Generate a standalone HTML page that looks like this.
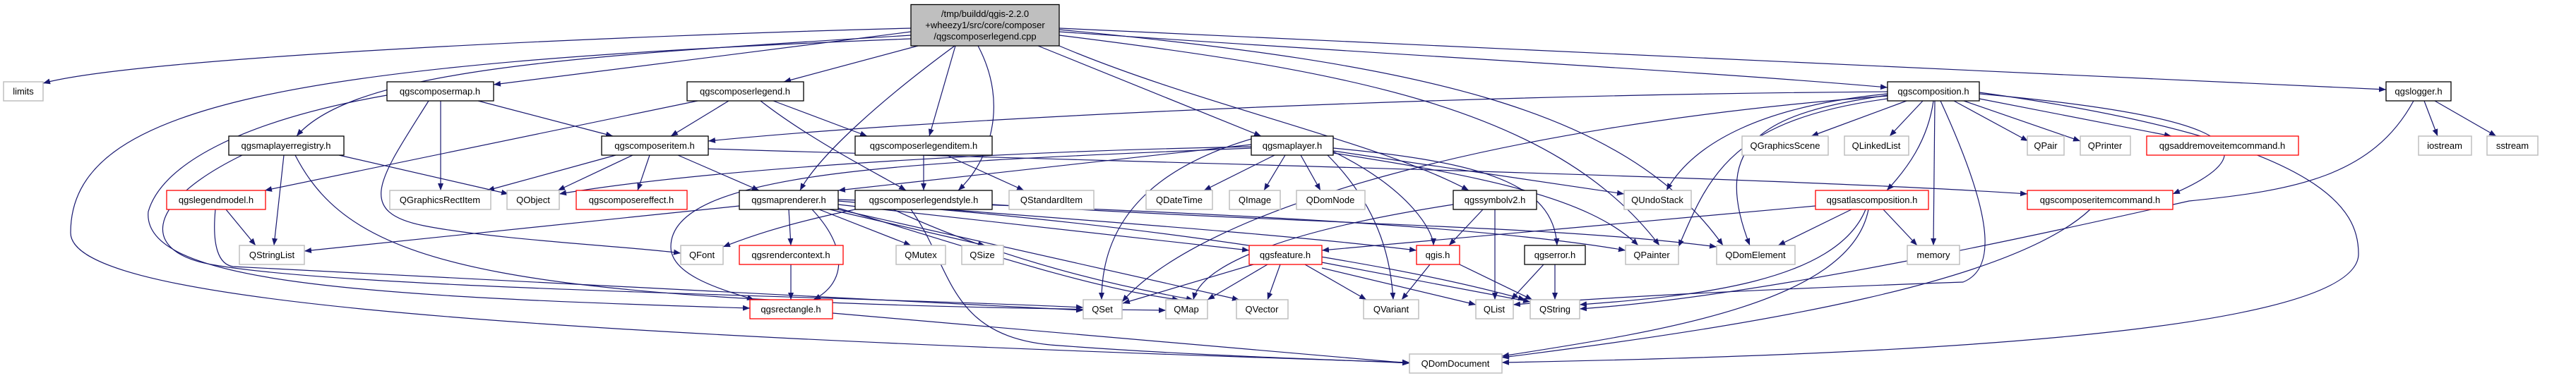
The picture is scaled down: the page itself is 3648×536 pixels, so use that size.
<!DOCTYPE html>
<html><head><meta charset="utf-8"><style>
html,body{margin:0;padding:0;background:#fff;}
svg{display:block;}
text{font-family:"Liberation Sans",sans-serif;font-size:13px;fill:#000;text-anchor:middle;}
.e{fill:none;stroke:#191970;stroke-width:1.2;marker-end:url(#a);}
.n{fill:#fff;stroke:#000;stroke-width:1.3;}
.g{fill:#fff;stroke:#bfbfbf;stroke-width:1.5;}
.r{fill:#fff;stroke:#ff0000;stroke-width:1.3;}
</style></head><body>
<svg width="3648" height="536" viewBox="0 0 3648 536" xmlns="http://www.w3.org/2000/svg">
<defs><marker id="a" markerUnits="userSpaceOnUse" markerWidth="11" markerHeight="9" refX="10" refY="4" orient="auto"><path d="M0,0 L10,4 L0,8 z" fill="#191970"/></marker></defs>
<g>
<!-- main -->
<path class="e" d="M1290 40 C900 50,200 80,61 118"/>
<path class="e" d="M1290 45 C1100 70,850 100,699 120"/>
<path class="e" d="M1300 65 L1110 116"/>
<path class="e" d="M1290 50 C800 80,500 100,420 193"/>
<path class="e" d="M1353 65 L1316 193"/>
<path class="e" d="M1385 65 C1430 150,1400 230,1357 270"/>
<path class="e" d="M1352 65 C1250 140,1160 220,1133 270"/>
<path class="e" d="M1470 65 L1786 193"/>
<path class="e" d="M1500 65 C1700 150,1950 200,2080 270"/>
<path class="e" d="M1500 45 C2000 80,2400 100,2673 124"/>
<path class="e" d="M1500 40 L3379 127"/>
<path class="e" d="M1290 55 C400 90,100 150,100 330 C100 420,600 470,1996 514"/>
<path class="e" d="M1500 50 C1900 100,2200 150,2350 348"/>
<path class="e" d="M1500 42 C2000 90,2300 150,2440 348"/>
<!-- cmap -->
<path class="e" d="M677 143 L868 193"/>
<path class="e" d="M624 143 L624 270"/>
<path class="e" d="M607 143 C540 250,500 300,600 320 C700 340,900 350,964 359"/>
<path class="e" d="M548 135 C350 170,230 230,210 300 C200 400,500 420,1062 437"/>
<!-- citem -->
<path class="e" d="M872 220 L690 270"/>
<path class="e" d="M896 220 L790 270"/>
<path class="e" d="M920 220 L903 270"/>
<path class="e" d="M960 220 L1075 270"/>
<path class="e" d="M1003 211 C1600 230,2500 250,2871 275"/>
<!-- clegend -->
<path class="e" d="M1032 143 L950 193"/>
<path class="e" d="M1095 143 L1228 193"/>
<path class="e" d="M988 143 L375 270"/>
<path class="e" d="M1077 143 C1150 200,1250 250,1283 270"/>
<!-- mlr -->
<path class="e" d="M480 220 L720 275"/>
<path class="e" d="M402 220 L388 348"/>
<path class="e" d="M343 220 C200 290,200 360,305 376 C500 410,1200 420,1534 436"/>
<path class="e" d="M418 220 C500 380,700 430,1651 440"/>
<!-- legendmodel -->
<path class="e" d="M320 297 L362 348"/>
<path class="e" d="M305 297 C300 350,310 375,330 378 L1534 440"/>
<!-- maprenderer -->
<path class="e" d="M1047 292 L431 356"/>
<path class="e" d="M1117 297 L1120 348"/>
<path class="e" d="M1150 297 C1200 350,1200 400,1152 425"/>
<path class="e" d="M1160 297 L1290 348"/>
<path class="e" d="M1175 297 L1395 348"/>
<path class="e" d="M1187 290 L1769 355"/>
<path class="e" d="M1187 295 C1400 360,1550 410,1670 425"/>
<path class="e" d="M1187 297 L1755 425"/>
<path class="e" d="M1187 285 C1500 310,1800 330,2006 355"/>
<path class="e" d="M1187 283 C1700 300,2100 320,2302 355"/>
<!-- clitem -->
<path class="e" d="M1308 220 L1308 270"/>
<path class="e" d="M1340 220 L1450 270"/>
<!-- clstyle -->
<path class="e" d="M1211 297 C1100 320,1050 340,1024 350"/>
<path class="e" d="M1265 297 C1400 360,1550 400,1690 425"/>
<path class="e" d="M1290 297 C1350 380,1340 480,1500 490 C1700 505,1900 510,1996 515"/>
<path class="e" d="M1405 290 C1900 320,2200 320,2431 350"/>
<path class="e" d="M1330 297 C1700 330,2000 380,2160 425"/>
<!-- mlayer -->
<path class="e" d="M1772 205 L1187 270"/>
<path class="e" d="M1772 208 C1400 215,1000 240,792 275"/>
<path class="e" d="M1805 220 L1705 270"/>
<path class="e" d="M1820 220 L1790 270"/>
<path class="e" d="M1842 220 L1870 270"/>
<path class="e" d="M1880 220 C1960 300,1970 380,1973 425"/>
<path class="e" d="M1888 215 C2000 270,2030 330,2030 348"/>
<path class="e" d="M1888 210 C2100 230,2200 260,2205 348"/>
<path class="e" d="M1888 214 L2300 275"/>
<path class="e" d="M1888 217 C2100 250,2250 280,2320 348"/>
<path class="e" d="M1772 210 C1300 230,950 240,950 350 C950 390,1020 410,1068 425"/>
<path class="e" d="M1786 193 C1650 230,1560 300,1560 425"/>
<!-- symbolv2 -->
<path class="e" d="M2100 297 L2052 348"/>
<path class="e" d="M2117 297 L2117 425"/>
<path class="e" d="M2058 290 C1800 330,1700 380,1690 425"/>
<!-- feature -->
<path class="e" d="M1775 375 L1590 430"/>
<path class="e" d="M1795 375 L1710 425"/>
<path class="e" d="M1813 375 L1795 425"/>
<path class="e" d="M1848 375 L1935 425"/>
<path class="e" d="M1872 380 L2090 432"/>
<path class="e" d="M1872 372 L2167 428"/>
<!-- qgis, error -->
<path class="e" d="M2025 375 L1985 425"/>
<path class="e" d="M2067 375 L2170 425"/>
<path class="e" d="M2186 375 L2140 425"/>
<path class="e" d="M2202 375 L2202 425"/>
<path class="e" d="M1120 375 L1120 425"/>
<path class="e" d="M1179 444 L1996 515"/>
<!-- comp -->
<path class="e" d="M2673 130 C2000 135,1300 170,1003 200"/>
<path class="e" d="M2700 143 L2565 193"/>
<path class="e" d="M2723 143 L2676 193"/>
<path class="e" d="M2767 143 L2872 200"/>
<path class="e" d="M2781 143 L2946 200"/>
<path class="e" d="M2803 140 L3075 193"/>
<path class="e" d="M2738 143 C2730 200,2700 240,2672 270"/>
<path class="e" d="M2740 143 L2738 348"/>
<path class="e" d="M2803 133 C3100 160,3250 200,3077 275"/>
<path class="e" d="M2673 135 C2500 160,2420 200,2478 348"/>
<path class="e" d="M2673 133 C2500 150,2400 200,2360 270"/>
<path class="e" d="M2748 143 C2820 300,2830 380,2780 400 C2500 410,2300 420,2143 432"/>
<path class="e" d="M2803 131 C3300 200,3340 300,3340 360 C3340 480,2600 505,2127 514"/>
<path class="e" d="M2673 140 C2450 170,2420 250,2377 350"/>
<path class="e" d="M2673 136 C2100 180,1700 300,1589 428"/>
<!-- atlas -->
<path class="e" d="M2571 292 L1872 355"/>
<path class="e" d="M2622 297 L2518 348"/>
<path class="e" d="M2667 297 L2715 348"/>
<path class="e" d="M2642 297 C2600 400,2400 420,2237 432"/>
<path class="e" d="M2646 297 C2620 430,2350 470,2127 505"/>
<path class="e" d="M2960 297 C2850 400,2500 460,2127 507"/>
<!-- logger -->
<path class="e" d="M3433 143 L3452 193"/>
<path class="e" d="M3448 143 L3535 193"/>
<path class="e" d="M3418 143 C3360 250,3250 270,3100 285 C2900 330,2500 420,2237 438"/>
</g>
<g>
<rect x="1290" y="6.5" width="210" height="58.5" fill="#bfbfbf" stroke="#000" stroke-width="1.3"/>
<text x="1395" y="24">/tmp/buildd/qgis-2.2.0</text>
<text x="1395" y="40">+wheezy1/src/core/composer</text>
<text x="1395" y="56">/qgscomposerlegend.cpp</text>
<!-- row2 y116 -->
<rect class="g" x="5" y="116" width="56" height="27"/><text x="33" y="134">limits</text>
<rect class="n" x="548" y="116" width="151" height="27"/><text x="623" y="134">qgscomposermap.h</text>
<rect class="n" x="973" y="116" width="165" height="27"/><text x="1055" y="134">qgscomposerlegend.h</text>
<rect class="n" x="2673" y="116" width="130" height="27"/><text x="2738" y="134">qgscomposition.h</text>
<rect class="n" x="3379" y="116" width="92" height="27"/><text x="3425" y="134">qgslogger.h</text>
<!-- row3 y193 -->
<rect class="n" x="324" y="193" width="163" height="27"/><text x="405" y="211">qgsmaplayerregistry.h</text>
<rect class="n" x="852" y="193" width="151" height="27"/><text x="927" y="211">qgscomposeritem.h</text>
<rect class="n" x="1211" y="193" width="194" height="27"/><text x="1308" y="211">qgscomposerlegenditem.h</text>
<rect class="n" x="1772" y="193" width="116" height="27"/><text x="1830" y="211">qgsmaplayer.h</text>
<rect class="g" x="2467" y="193" width="122" height="27"/><text x="2528" y="211">QGraphicsScene</text>
<rect class="g" x="2612" y="193" width="91" height="27"/><text x="2657" y="211">QLinkedList</text>
<rect class="g" x="2871" y="193" width="52" height="27"/><text x="2897" y="211">QPair</text>
<rect class="g" x="2946" y="193" width="71" height="27"/><text x="2981" y="211">QPrinter</text>
<rect class="r" x="3040" y="193" width="215" height="27"/><text x="3147" y="211">qgsaddremoveitemcommand.h</text>
<rect class="g" x="3425" y="193" width="75" height="27"/><text x="3462" y="211">iostream</text>
<rect class="g" x="3522" y="193" width="72" height="27"/><text x="3558" y="211">sstream</text>
<!-- row4 y270 -->
<rect class="r" x="236" y="270" width="140" height="27"/><text x="306" y="288">qgslegendmodel.h</text>
<rect class="g" x="552" y="270" width="143" height="27"/><text x="623" y="288">QGraphicsRectItem</text>
<rect class="g" x="718" y="270" width="74" height="27"/><text x="755" y="288">QObject</text>
<rect class="r" x="816" y="270" width="157" height="27"/><text x="894" y="288">qgscomposereffect.h</text>
<rect class="n" x="1047" y="270" width="140" height="27"/><text x="1117" y="288">qgsmaprenderer.h</text>
<rect class="n" x="1211" y="270" width="194" height="27"/><text x="1308" y="288">qgscomposerlegendstyle.h</text>
<rect class="g" x="1429" y="270" width="120" height="27"/><text x="1489" y="288">QStandardItem</text>
<rect class="g" x="1623" y="270" width="94" height="27"/><text x="1670" y="288">QDateTime</text>
<rect class="g" x="1741" y="270" width="72" height="27"/><text x="1777" y="288">QImage</text>
<rect class="g" x="1836" y="270" width="97" height="27"/><text x="1884" y="288">QDomNode</text>
<rect class="n" x="2058" y="270" width="118" height="27"/><text x="2117" y="288">qgssymbolv2.h</text>
<rect class="g" x="2300" y="270" width="95" height="27"/><text x="2347" y="288">QUndoStack</text>
<rect class="r" x="2571" y="270" width="160" height="27"/><text x="2651" y="288">qgsatlascomposition.h</text>
<rect class="r" x="2871" y="270" width="206" height="27"/><text x="2974" y="288">qgscomposeritemcommand.h</text>
<!-- row5 y348 -->
<rect class="g" x="339" y="348" width="92" height="27"/><text x="385" y="366">QStringList</text>
<rect class="g" x="964" y="348" width="60" height="27"/><text x="994" y="366">QFont</text>
<rect class="r" x="1047" y="348" width="147" height="27"/><text x="1120" y="366">qgsrendercontext.h</text>
<rect class="g" x="1269" y="348" width="70" height="27"/><text x="1304" y="366">QMutex</text>
<rect class="g" x="1362" y="348" width="59" height="27"/><text x="1391" y="366">QSize</text>
<rect class="r" x="1769" y="348" width="103" height="27"/><text x="1820" y="366">qgsfeature.h</text>
<rect class="r" x="2006" y="348" width="61" height="27"/><text x="2036" y="366">qgis.h</text>
<rect class="n" x="2159" y="348" width="86" height="27"/><text x="2202" y="366">qgserror.h</text>
<rect class="g" x="2302" y="348" width="75" height="27"/><text x="2339" y="366">QPainter</text>
<rect class="g" x="2431" y="348" width="111" height="27"/><text x="2486" y="366">QDomElement</text>
<rect class="g" x="2701" y="348" width="74" height="27"/><text x="2738" y="366">memory</text>
<!-- row6 y425 -->
<rect class="r" x="1062" y="425" width="117" height="27"/><text x="1120" y="443">qgsrectangle.h</text>
<rect class="g" x="1534" y="425" width="55" height="27"/><text x="1561" y="443">QSet</text>
<rect class="g" x="1651" y="425" width="59" height="27"/><text x="1680" y="443">QMap</text>
<rect class="g" x="1751" y="425" width="73" height="27"/><text x="1787" y="443">QVector</text>
<rect class="g" x="1931" y="425" width="78" height="27"/><text x="1970" y="443">QVariant</text>
<rect class="g" x="2090" y="425" width="53" height="27"/><text x="2116" y="443">QList</text>
<rect class="g" x="2167" y="425" width="70" height="27"/><text x="2202" y="443">QString</text>
<!-- row7 -->
<rect class="g" x="1996" y="502" width="131" height="27"/><text x="2061" y="520">QDomDocument</text>
</g>
</svg>
</body></html>
